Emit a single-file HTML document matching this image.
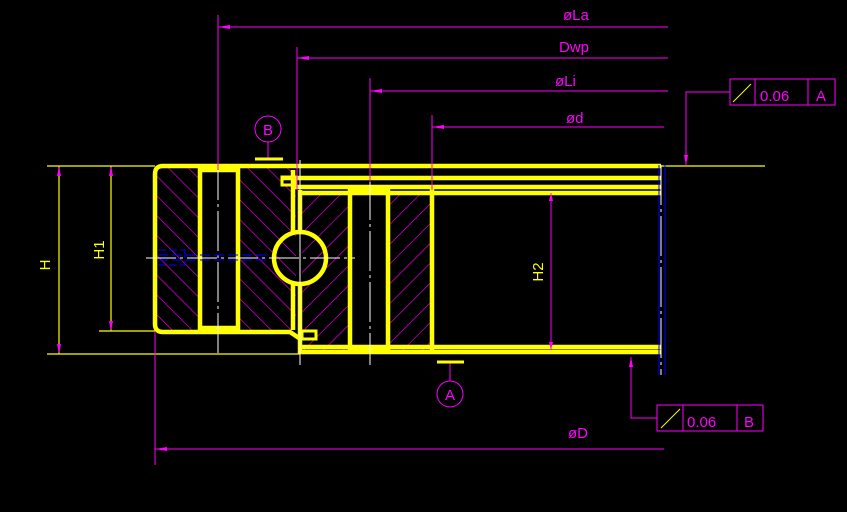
<!DOCTYPE html>
<html><head><meta charset="utf-8"><style>html,body{margin:0;padding:0;background:#000;}svg{display:block}</style></head>
<body>
<svg width="847" height="512" viewBox="0 0 847 512" xmlns="http://www.w3.org/2000/svg" font-family="Liberation Sans, sans-serif">
<defs>
<pattern id="hA" width="14" height="14" patternUnits="userSpaceOnUse" patternTransform="rotate(45)"><line x1="0" y1="0" x2="0" y2="14" stroke="#ff00ff" stroke-width="1.2"/></pattern>
<pattern id="hB" width="14" height="14" patternUnits="userSpaceOnUse" patternTransform="rotate(-45)"><line x1="0" y1="0" x2="0" y2="14" stroke="#ff00ff" stroke-width="1.2"/></pattern>
</defs>
<rect width="847" height="512" fill="#000"/>

<rect x="157" y="168" width="43" height="162" fill="url(#hB)"/>
<rect x="238" y="168" width="58" height="162" fill="url(#hB)"/>
<rect x="302" y="193" width="48" height="157" fill="url(#hA)"/>
<rect x="388" y="193" width="44" height="157" fill="url(#hA)"/>

<g stroke="#ffff00" stroke-width="1.2" fill="none">
<line x1="47" y1="166" x2="155" y2="166"/>
<line x1="47" y1="354" x2="300" y2="354"/>
<line x1="99" y1="331" x2="155" y2="331"/>
<line x1="59" y1="166" x2="59" y2="354"/>
<line x1="111" y1="166" x2="111" y2="331"/>
<line x1="661" y1="166" x2="765" y2="166"/>
</g>
<g stroke="#ffff00" stroke-width="4.5" fill="none">
<path d="M163 166 H661 M163 166 Q155 166 155 174 V324 Q155 332 163 332 H290 L302 340"/>
<rect x="200" y="170" width="38" height="158"/>
<line x1="282" y1="178" x2="661" y2="178"/>
<line x1="295" y1="187" x2="661" y2="187"/>
<line x1="300" y1="193" x2="661" y2="193"/>
<line x1="293" y1="170" x2="293" y2="232"/>
<line x1="293" y1="284" x2="293" y2="330"/>
<line x1="300" y1="190" x2="300" y2="232"/>
<path d="M300 284 V352 H661"/>
<line x1="300" y1="347" x2="661" y2="347"/>
<rect x="350" y="191" width="38" height="158"/>
<line x1="432" y1="189" x2="432" y2="350"/>
<circle cx="300" cy="258" r="26"/>
<rect x="282" y="177" width="14" height="8" stroke-width="3"/>
<rect x="302" y="331" width="14" height="8" stroke-width="3"/>
</g>
<g stroke="#fff" stroke-width="1" fill="none">
<line x1="146" y1="258" x2="355" y2="258" stroke-dasharray="30,4,3,4"/>
<line x1="218" y1="160" x2="218" y2="355" stroke-dasharray="40,4,3,4"/>
<line x1="300" y1="160" x2="300" y2="365"/>
<line x1="370" y1="180" x2="370" y2="365" stroke-dasharray="40,4,3,4"/>
<line x1="661" y1="165" x2="661" y2="375" stroke-dasharray="40,4,3,4"/>
</g>
<g stroke="#0000ff" stroke-width="1" fill="none">
<line x1="659" y1="165" x2="659" y2="375"/>
<line x1="665" y1="165" x2="665" y2="375"/>
<path d="M158 250 H185 M158 265 H185 M185 250 V265" stroke-dasharray="8,3"/>
<path d="M158 255 H270 M158 260 H270" stroke-dasharray="10,4"/>
</g>

<g stroke="#ff00ff" stroke-width="1" fill="none">
<line x1="218" y1="15" x2="218" y2="170"/>
<line x1="297" y1="47" x2="297" y2="190"/>
<line x1="370" y1="78" x2="370" y2="182"/>
<line x1="432" y1="115" x2="432" y2="190"/>
<line x1="155" y1="332" x2="155" y2="465"/>
<line x1="218" y1="27" x2="668" y2="27"/>
<line x1="297" y1="58" x2="668" y2="58"/>
<line x1="370" y1="91" x2="668" y2="91"/>
<line x1="432" y1="127" x2="664" y2="127"/>
<line x1="155" y1="449" x2="664" y2="449"/>
<line x1="551" y1="193" x2="551" y2="350"/>
<path d="M730 92 H686 V165"/>
<path d="M657 418 H631 V357"/>
<rect x="730" y="79" width="105" height="26"/>
<line x1="755" y1="79" x2="755" y2="105"/><line x1="808" y1="79" x2="808" y2="105"/>
<rect x="657" y="405" width="106" height="26"/>
<line x1="683" y1="405" x2="683" y2="431"/><line x1="737" y1="405" x2="737" y2="431"/>
<circle cx="268" cy="129" r="13"/><line x1="268" y1="142" x2="268" y2="159"/>
<circle cx="450" cy="394" r="13"/><line x1="450" y1="362" x2="450" y2="381"/>
</g>
<g fill="#ff00ff">
<path d="M218 27 l12 -2 v4z"/><path d="M297 58 l12 -2 v4z"/><path d="M370 91 l12 -2 v4z"/><path d="M432 127 l12 -2 v4z"/><path d="M155 449 l12 -2 v4z"/>
<path d="M686 165 l-2 -10 h4z"/><path d="M631 357 l-2 10 h4z"/>
<path d="M59 166 l-2 10 h4z"/><path d="M59 354 l-2 -10 h4z"/>
<path d="M111 166 l-2 10 h4z"/><path d="M111 331 l-2 -10 h4z"/>
<path d="M551 193 l-2 8 h4z"/><path d="M551 350 l-2 -8 h4z"/>
</g>
<g stroke="#ffff00" stroke-width="3">
<line x1="255" y1="159" x2="283" y2="159"/>
<line x1="437" y1="362" x2="464" y2="362"/>
</g>
<g stroke="#ffff00" stroke-width="1"><line x1="733" y1="102" x2="751" y2="84"/><line x1="661" y1="428" x2="680" y2="409"/></g>

<g fill="#ff00ff" font-size="15">
<text x="563" y="20">øLa</text>
<text x="559" y="52">Dwp</text>
<text x="555" y="86">øLi</text>
<text x="566" y="123">ød</text>
<text x="568" y="438">øD</text>
<text x="760" y="101">0.06</text>
<text x="816" y="101">A</text>
<text x="687" y="427">0.06</text>
<text x="744" y="427">B</text>
<text x="263" y="135">B</text>
<text x="445" y="400">A</text>
</g>
<g fill="#ffff00" font-size="15">
<text transform="translate(50,265) rotate(-90)" text-anchor="middle">H</text>
<text transform="translate(104,250) rotate(-90)" text-anchor="middle">H1</text>
<text transform="translate(543,272) rotate(-90)" text-anchor="middle">H2</text>
</g>
</svg>
</body></html>
